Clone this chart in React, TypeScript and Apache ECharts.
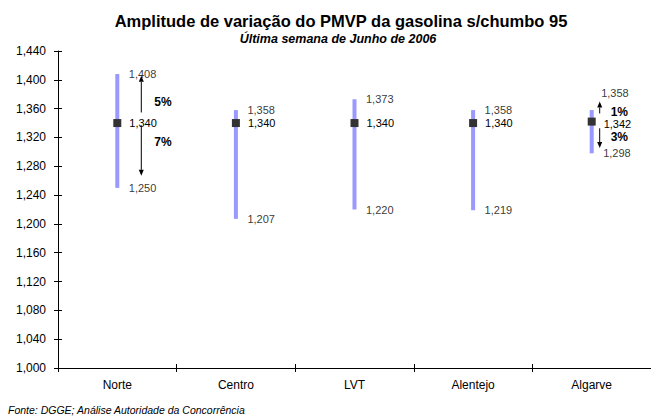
import React, { useEffect, useRef } from "react";
import * as echarts from "echarts";

const categories = ["Norte", "Centro", "LVT", "Alentejo", "Algarve"];
const maxVals = [1.408, 1.358, 1.373, 1.358, 1.358];
const avgVals = [1.34, 1.34, 1.34, 1.34, 1.342];
const minVals = [1.25, 1.207, 1.22, 1.219, 1.298];

// annotation arrows: category index, start value, end value
const arrowCats = [0, 0, 4, 4];
const arrowFrom = [1.3547, 1.3368, 1.3533, 1.3327];
const arrowTo = [1.4056, 1.2667, 1.3698, 1.3052];
const pctLabels = ["5%", "7%", "1%", "3%"];
const pctLabelAt = [1.3698, 1.3135, 1.3560, 1.3203];

// styling (pixel offsets of the annotations)
const arrowOffsetX = [24, 24, 8, 8];
const labelOffsetX = [37, 37, 19, 19];

const FONT = "'Liberation Sans', Arial, sans-serif";
const fmt = (v: number) => v.toFixed(3).replace(".", ",");

export default function App() {
  const ref = useRef<HTMLDivElement>(null);
  useEffect(() => {
    if (!ref.current) return;
    const chart = echarts.init(ref.current, null, { renderer: "svg" });
    const yCommon = {
      type: "value" as const,
      min: 1.0,
      max: 1.44,
      interval: 0.04,
      splitLine: { show: false },
    };
    const dataLabel = {
      show: true,
      position: "right" as const,
      color: "#000",
      fontSize: 11,
      fontFamily: FONT,
      formatter: (p: any) => fmt(typeof p.value === "number" ? p.value : p.value),
    };
    chart.setOption({
      animation: false,
      backgroundColor: "#ffffff",
      textStyle: { fontFamily: FONT },
      grid: { left: 58, top: 51, width: 600, height: 317 },
      graphic: [
        {
          type: "text",
          x: 341,
          y: 21,
          style: {
            text: "Amplitude de variação do PMVP da gasolina s/chumbo 95",
            font: `bold 16.5px ${FONT}`,
            fill: "#000",
            textAlign: "center",
            textVerticalAlign: "middle",
          },
        },
        {
          type: "text",
          x: 338,
          y: 39,
          style: {
            text: "Última semana de Junho de 2006",
            font: `italic bold 12.5px ${FONT}`,
            fill: "#000",
            textAlign: "center",
            textVerticalAlign: "middle",
          },
        },
        {
          type: "text",
          x: 8,
          y: 410,
          style: {
            text: "Fonte: DGGE; Análise Autoridade da Concorrência",
            font: `italic 10.5px ${FONT}`,
            fill: "#000",
            textAlign: "left",
            textVerticalAlign: "middle",
          },
        },
      ],
      xAxis: [
        {
          type: "category",
          data: categories,
          boundaryGap: true,
          axisLine: { lineStyle: { color: "#000", width: 1 } },
          axisTick: { show: true, length: 4, lineStyle: { color: "#000" } },
          axisLabel: { color: "#000", fontSize: 12, margin: 11, fontFamily: FONT },
        },
        {
          type: "category",
          data: categories,
          position: "bottom",
          boundaryGap: true,
          axisLine: { show: false },
          axisTick: { show: true, inside: true, length: 4, lineStyle: { color: "#000" } },
          axisLabel: { show: false },
        },
      ],
      yAxis: [
        {
          ...yCommon,
          axisLine: { show: true, lineStyle: { color: "#000", width: 1 } },
          axisTick: { show: true, length: 4, lineStyle: { color: "#000" } },
          axisLabel: {
            color: "#000",
            fontSize: 12,
            margin: 12,
            fontFamily: FONT,
            formatter: (v: number) => fmt(v),
          },
        },
        {
          ...yCommon,
          position: "left",
          axisLine: { show: false },
          axisTick: { show: true, inside: true, length: 4, lineStyle: { color: "#000" } },
          axisLabel: { show: false },
        },
      ],
      series: [
        {
          type: "custom",
          name: "range",
          encode: { x: 0, y: [1, 2] },
          data: categories.map((_, i) => [i, minVals[i], maxVals[i]]),
          renderItem: (params: any, api: any) => {
            const x = api.value(0);
            const lo = api.coord([x, api.value(1)]);
            const hi = api.coord([x, api.value(2)]);
            return {
              type: "line",
              shape: { x1: lo[0], y1: lo[1], x2: hi[0], y2: hi[1] },
              style: { stroke: "#9999ff", lineWidth: 4 },
            };
          },
          z: 1,
        },
        {
          type: "scatter",
          name: "avg",
          data: avgVals.map((v, i) =>
            i === 4 ? { value: v, label: { offset: [0, 2] } } : v
          ),
          symbol: "rect",
          symbolSize: 8,
          itemStyle: { color: "#333333", opacity: 1 },
          label: { ...dataLabel, distance: 8 },
          z: 3,
        },
        {
          type: "scatter",
          name: "max",
          data: maxVals.map((v, i) =>
            i === 4 ? { value: v, label: { offset: [-2, -17] } } : v
          ),
          symbolSize: 1,
          itemStyle: { color: "rgba(0,0,0,0)" },
          label: { ...dataLabel, distance: 11 },
          z: 3,
        },
        {
          type: "scatter",
          name: "min",
          data: minVals,
          symbolSize: 1,
          itemStyle: { color: "rgba(0,0,0,0)" },
          label: { ...dataLabel, distance: 11 },
          z: 3,
        },
        {
          type: "custom",
          name: "arrows",
          encode: { x: 0, y: [1, 2] },
          data: arrowCats.map((c, i) => [c, arrowFrom[i], arrowTo[i], pctLabelAt[i]]),
          renderItem: (params: any, api: any) => {
            const i = params.dataIndex;
            const x = api.value(0);
            const a = api.coord([x, api.value(1)]);
            const b = api.coord([x, api.value(2)]);
            const t = api.coord([x, api.value(3)]);
            const px = a[0] + arrowOffsetX[i];
            const dir = b[1] < a[1] ? -1 : 1;
            const head = 6;
            return {
              type: "group",
              children: [
                {
                  type: "line",
                  shape: { x1: px, y1: a[1], x2: px, y2: b[1] - dir * head },
                  style: { stroke: "#000", lineWidth: 1 },
                },
                {
                  type: "polygon",
                  shape: {
                    points: [
                      [px, b[1]],
                      [px - 2.5, b[1] - dir * head],
                      [px + 2.5, b[1] - dir * head],
                    ],
                  },
                  style: { fill: "#000" },
                },
                {
                  type: "text",
                  x: t[0] + labelOffsetX[i],
                  y: t[1],
                  style: {
                    text: pctLabels[i],
                    font: `bold 12px ${FONT}`,
                    fill: "#000",
                    textAlign: "left",
                    textVerticalAlign: "middle",
                  },
                },
              ],
            };
          },
          z: 4,
        },
      ],
    });
    return () => chart.dispose();
  }, []);
  return (
    <div
      ref={ref}
      style={{ position: "fixed", left: 0, top: 0, width: 651, height: 419 }}
    />
  );
}
